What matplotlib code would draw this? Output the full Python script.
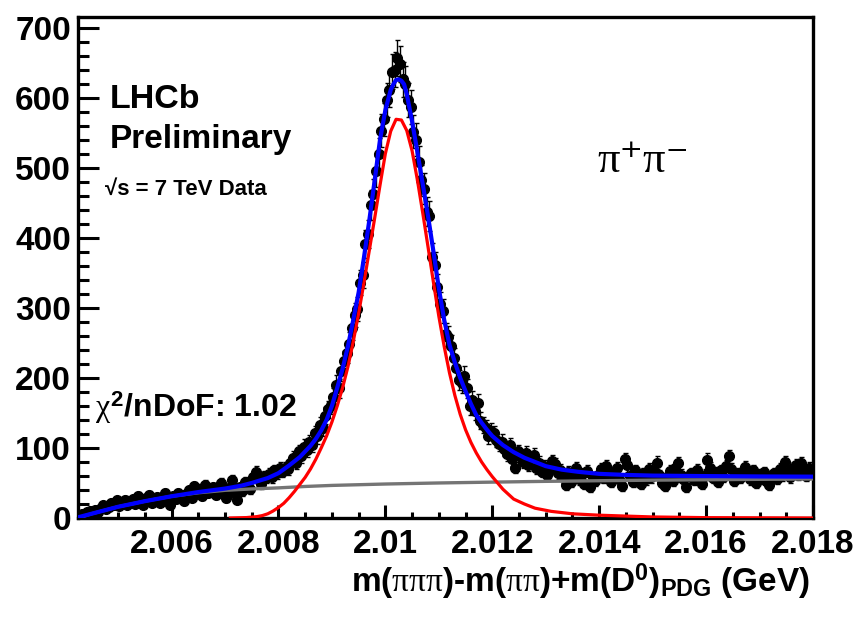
import numpy as np
import matplotlib
matplotlib.use("Agg")
import matplotlib.pyplot as plt
from matplotlib import font_manager
from matplotlib.ticker import MultipleLocator, FuncFormatter

# Delta-mass histogram: 275 bins of 0.05 MeV between the edges below
x_lo, x_hi = 2.00425, 2.018
counts = [
    3, 5, 4, 8, 10, 7, 12, 9, 14, 18, 13, 16, 22, 19, 25, 17, 21, 26, 18, 23,
    27, 20, 31, 24, 18, 28, 33, 22, 26, 30, 21, 29, 35, 25, 19, 31, 27, 36, 30, 24,
    34, 40, 29, 45, 38, 42, 31, 47, 36, 41, 44, 33, 39, 50, 37, 28, 43, 54, 35, 26,
    44, 38, 52, 46, 41, 58, 66, 55, 49, 60, 57, 63, 58, 68, 64, 71, 66, 72, 70, 78,
    86, 79, 95, 88, 102, 97, 108, 104, 121, 117, 133, 128, 146, 155, 161, 172, 190, 185, 210, 224,
    236, 249, 271, 290, 298, 336, 347, 391, 405, 447, 462, 495, 519, 553, 569, 596, 611, 637, 640, 657,
    648, 626, 620, 597, 586, 551, 540, 508, 482, 470, 437, 431, 373, 361, 330, 305, 296, 262, 258, 246,
    228, 214, 197, 192, 203, 185, 160, 168, 152, 164, 139, 133, 128, 117, 124, 121, 112, 106, 109, 98,
    91, 104, 84, 72, 95, 88, 80, 93, 76, 85, 90, 71, 79, 66, 74, 62, 70, 81, 77, 64,
    69, 58, 47, 66, 52, 61, 71, 55, 63, 48, 67, 44, 58, 53, 62, 70, 57, 74, 66, 51,
    63, 72, 56, 46, 84, 75, 60, 52, 68, 57, 49, 64, 55, 70, 58, 66, 79, 61, 50, 45,
    59, 67, 53, 71, 78, 62, 56, 44, 60, 64, 54, 69, 58, 48, 62, 83, 71, 57, 65, 52,
    68, 59, 74, 88, 70, 53, 63, 57, 66, 73, 61, 55, 68, 50, 62, 57, 65, 53, 47, 60,
    64, 56, 70, 61, 80, 66, 58, 72, 76, 62, 78, 67, 60, 71, 65,
]

# Fit components, sampled along the mass axis
total_x = [2.00425, 2.0045, 2.0050, 2.0055, 2.0060, 2.0065, 2.0070, 2.0073, 2.0075,
           2.0078, 2.0080, 2.0082, 2.0084, 2.0086, 2.0087, 2.0088, 2.0089, 2.0090,
           2.0091, 2.0092, 2.0093, 2.0094, 2.0095, 2.0096, 2.0097, 2.0098, 2.0099,
           2.0100, 2.0101, 2.01015, 2.0102, 2.01025, 2.0103, 2.01035, 2.0104, 2.0105,
           2.0106, 2.0107, 2.0108, 2.0109, 2.0110, 2.0111, 2.0112, 2.0113, 2.0114,
           2.0115, 2.0116, 2.0117, 2.0118, 2.0119, 2.0120, 2.0122, 2.0124, 2.0126,
           2.0128, 2.0130, 2.0133, 2.0136, 2.0140, 2.0145, 2.0150, 2.0160, 2.0170, 2.0180]
total_y = [1, 6, 16, 24, 31, 37, 42, 46, 50,
           57, 64, 75, 87, 103, 113, 125, 140, 160,
           186, 213, 245, 283, 322, 372, 425, 482, 540,
           582, 611, 619, 625, 626, 624, 619, 605, 566,
           522, 476, 430, 380, 328, 283, 247, 222, 200,
           181, 163, 147, 136, 126, 117, 104, 94, 86,
           80, 74, 69, 66, 63, 61.5, 60.5, 59.8, 59.3, 59]

signal_x = [2.0071, 2.0074, 2.0076, 2.0077, 2.0078, 2.0079, 2.0080, 2.0081, 2.0082,
            2.0083, 2.0084, 2.0085, 2.0086, 2.0087, 2.0088, 2.0089, 2.0090, 2.0091,
            2.0092, 2.0093, 2.0094, 2.0095, 2.0096, 2.0097, 2.0098, 2.0099, 2.0100,
            2.0101, 2.0102, 2.0103, 2.0104, 2.0105, 2.0106, 2.0107, 2.0108, 2.0109,
            2.0110, 2.0111, 2.0112, 2.0113, 2.0114, 2.0115, 2.0116, 2.0117, 2.0118,
            2.0119, 2.0120, 2.0122, 2.0124, 2.0126, 2.0128, 2.0131, 2.0135, 2.0140,
            2.0150, 2.0160, 2.0180]
signal_y = [0, 0.6, 2, 3.5, 6, 10, 15, 21, 29,
            38, 48, 58, 70, 84, 100, 117, 137, 160,
            186, 216, 252, 292, 336, 382, 428, 475, 520,
            552, 569, 568, 553, 524, 482, 435, 386, 336,
            288, 245, 207, 175, 148, 126, 108, 93, 80,
            69, 59, 41, 27, 20, 14, 9.5, 6, 4,
            1.5, 0.5, 0]

bkg_x = [2.00425, 2.0045, 2.0050, 2.0055, 2.0060, 2.0065, 2.0070, 2.0075, 2.0080,
         2.0085, 2.0090, 2.0095, 2.0100, 2.0110, 2.0120, 2.0130, 2.0140, 2.0150,
         2.0160, 2.0170, 2.0180]
bkg_y = [0, 6, 16, 24, 31, 36, 39.5, 41.5, 43,
         45, 46.5, 47.5, 48.5, 50, 51.2, 52.3, 53.2, 54,
         54.6, 55.2, 55.7]

names = {f.name for f in font_manager.fontManager.ttflist}
SANS = "Liberation Sans Narrow" if "Liberation Sans Narrow" in names else "Liberation Sans"

plt.rcParams["font.family"] = [SANS, "DejaVu Sans"]
plt.rcParams["font.weight"] = "bold"
# Latin letters bold sans, Greek letters in a regular Times-like face
plt.rcParams["mathtext.fontset"] = "custom"
plt.rcParams["mathtext.rm"] = f"{SANS}:bold"
plt.rcParams["mathtext.bf"] = f"{SANS}:bold"
plt.rcParams["mathtext.sf"] = f"{SANS}:bold"
plt.rcParams["mathtext.it"] = "Liberation Serif:weight=normal"

W, H = 859, 626
fig = plt.figure(figsize=(W / 100, H / 100), dpi=100)
ax = fig.add_axes([78 / W, 1 - 518 / H, (813 - 78) / W, (518 - 17) / H])

edges = np.linspace(x_lo, x_hi, len(counts) + 1)
centers = 0.5 * (edges[:-1] + edges[1:])
counts = np.asarray(counts, dtype=float)

ax.errorbar(centers, counts, yerr=np.sqrt(counts), fmt="o", color="black",
            ms=7, elinewidth=1.0, capsize=1.8, capthick=1.0, zorder=2)
ax.plot(bkg_x, bkg_y, color="#757575", lw=2.4, zorder=3)
ax.plot(signal_x, signal_y, color="#ff0000", lw=2.3, zorder=4)
ax.plot(total_x, total_y, color="#0000ff", lw=3.0, zorder=5)

ax.set_xlim(x_lo, x_hi)
ax.set_ylim(0, 715)

ax.xaxis.set_major_locator(MultipleLocator(0.002))
ax.xaxis.set_minor_locator(MultipleLocator(0.0005))
ax.yaxis.set_major_locator(MultipleLocator(100))
ax.yaxis.set_minor_locator(MultipleLocator(20))
ax.xaxis.set_major_formatter(FuncFormatter(lambda v, p: f"{v:g}"))
ax.yaxis.set_major_formatter(FuncFormatter(lambda v, p: f"{v:g}"))

ax.tick_params(axis="both", which="both", direction="in", top=False, right=False,
               width=2.2, labelsize=24)
ax.tick_params(axis="y", which="major", length=15, pad=5)
ax.tick_params(axis="y", which="minor", length=8)
ax.tick_params(axis="x", which="major", length=9.5, pad=8)
ax.tick_params(axis="x", which="minor", length=4)
for s in ax.spines.values():
    s.set_linewidth(2.4)


def put(px, py, s, **kw):
    fig.text(px / W, 1 - py / H, s, va="baseline", **kw)


put(110, 108, "LHCb", fontsize=24.5, fontweight="bold")
put(110, 148, "Preliminary", fontsize=24, fontweight="bold")
put(105, 195, "\u221as = 7 TeV Data", fontsize=16, fontweight="bold")
put(95, 417, r"$\chi^{2}$/nDoF: 1.02", fontsize=23, fontweight="bold")
put(597, 172, "\u03c0\u207a\u03c0\u207b", fontsize=32, fontweight="normal",
    family=["Liberation Serif", "DejaVu Serif"])
put(810, 592, r"m($\pi\pi\pi$)-m($\pi\pi$)+m(D$^{0}$)$_{\mathrm{PDG}}$ (GeV)",
    fontsize=24, fontweight="bold", ha="right")

fig.savefig("out.png", dpi=100, facecolor="white")
